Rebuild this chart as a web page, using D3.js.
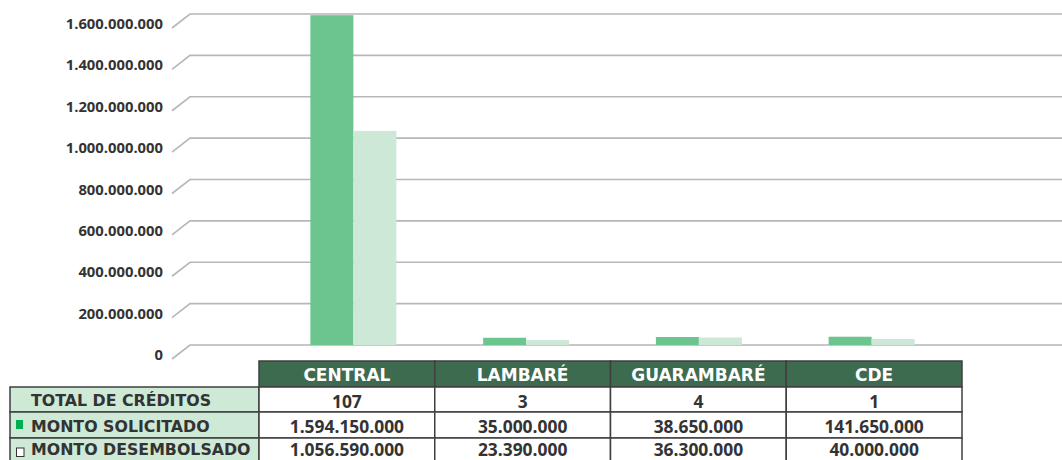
<!DOCTYPE html>
<html>
<head>
<meta charset="utf-8">
<script src="https://cdn.jsdelivr.net/npm/d3@7"></script>
<style>
  body { margin: 0; background: #fff; }
  svg { display: block; }
</style>
</head>
<body>
<div id="chart"></div>
<script>
// data
var categories = ["CENTRAL", "LAMBARÉ", "GUARAMBARÉ", "CDE"];
var barSolicitado = [1594150000, 35000000, 38650000, 40000000];
var barDesembolsado = [1035000000, 23390000, 36300000, 29000000];
var yTicks = [0, 200000000, 400000000, 600000000, 800000000, 1000000000, 1200000000, 1400000000, 1600000000];

// table under the chart
var rowLabels = ["TOTAL DE CRÉDITOS", "MONTO SOLICITADO", "MONTO DESEMBOLSADO"];
var totalCreditos = ["107", "3", "4", "1"];
var montoSolicitado = ["1.594.150.000", "35.000.000", "38.650.000", "141.650.000"];
var montoDesembolsado = ["1.056.590.000", "23.390.000", "36.300.000", "40.000.000"];

var W = 1062, H = 460;
var colSol = "#6cc48f", colDes = "#cde8d6";
var textCol = "#333";
var numFont = "'Open Sans', sans-serif";
var capFont = "'DejaVu Sans', sans-serif";

var svg = d3.select("#chart").append("svg")
    .attr("width", W)
    .attr("height", H);

var y = d3.scaleLinear().domain([0, 1600000000]).range([345, 14]);
var x = d3.scaleBand().domain(categories).range([267, 958]);
var fmt = function (v) { return d3.format(",")(v).replace(/,/g, "."); };

// gridlines with the little 3D floor offset
var dx = 18, dy = 14;
var grid = svg.append("g");
grid.selectAll("path")
    .data(yTicks)
    .enter()
    .append("path")
    .attr("d", function (d) {
        var yy = y(d);
        return "M" + (190 - dx) + "," + (yy + dy) + "L190," + yy + "L" + W + "," + yy;
    })
    .attr("fill", "none")
    .attr("stroke", "#b7b7b7")
    .attr("stroke-width", 1.6);

grid.selectAll("text")
    .data(yTicks)
    .enter()
    .append("text")
    .text(function (d) { return fmt(d); })
    .attr("x", 163)
    .attr("y", function (d) { return y(d) + 9; })
    .attr("text-anchor", "end")
    .attr("dominant-baseline", "central")
    .attr("font-family", numFont)
    .attr("font-weight", 700)
    .attr("font-size", "14.8px")
    .attr("fill", textCol);

// bars
var bw = 43;
var center = function (c) { return x(c) + x.bandwidth() / 2; };
svg.append("g").selectAll("rect")
    .data(categories)
    .enter()
    .append("rect")
    .attr("x", function (d) { return center(d) - bw; })
    .attr("y", function (d, i) { return y(barSolicitado[i]); })
    .attr("width", bw)
    .attr("height", function (d, i) { return y(0) - y(barSolicitado[i]); })
    .attr("fill", colSol);

svg.append("g").selectAll("rect")
    .data(categories)
    .enter()
    .append("rect")
    .attr("x", function (d) { return center(d); })
    .attr("y", function (d, i) { return y(barDesembolsado[i]); })
    .attr("width", bw)
    .attr("height", function (d, i) { return y(0) - y(barDesembolsado[i]); })
    .attr("fill", colDes);

// table
var tx = d3.scaleBand().domain(categories).range([259, 962]);
var rowTop = [361, 387, 412, 438], rowH = [26, 25, 26, 26];
var textDy = [1, 1, 1, -1];
var labelX0 = 10, labelX1 = 259;
var border = "#3f3f3f";
var tbl = svg.append("g");

// header
tbl.selectAll("rect.head")
    .data(categories)
    .enter()
    .append("rect")
    .attr("class", "head")
    .attr("x", function (d) { return tx(d); })
    .attr("y", rowTop[0])
    .attr("width", tx.bandwidth())
    .attr("height", rowH[0])
    .attr("fill", "#3d6b50")
    .attr("stroke", border)
    .attr("stroke-width", 1.5);

tbl.selectAll("text.head")
    .data(categories)
    .enter()
    .append("text")
    .attr("class", "head")
    .text(function (d) { return d; })
    .attr("x", function (d) { return tx(d) + tx.bandwidth() / 2; })
    .attr("y", rowTop[0] + rowH[0] / 2 + 1)
    .attr("text-anchor", "middle")
    .attr("dominant-baseline", "central")
    .attr("font-family", capFont)
    .attr("font-weight", 700)
    .attr("font-size", "17px")
    .attr("fill", "#fff");

var rows = [totalCreditos, montoSolicitado, montoDesembolsado];
rows.forEach(function (vals, r) {
    var top = rowTop[r + 1], h = rowH[r + 1];
    var ty = Math.min(top + h / 2 + textDy[r + 1], 449);
    tbl.append("rect")
        .attr("x", labelX0)
        .attr("y", top)
        .attr("width", labelX1 - labelX0)
        .attr("height", h)
        .attr("fill", "#cfe9d7")
        .attr("stroke", border)
        .attr("stroke-width", 1.5);
    tbl.append("text")
        .text(rowLabels[r])
        .attr("x", 31)
        .attr("y", ty)
        .attr("dominant-baseline", "central")
        .attr("font-family", capFont)
        .attr("font-weight", 700)
        .attr("font-size", "15.8px")
        .attr("fill", textCol);

    tbl.selectAll("rect.r" + r)
        .data(categories)
        .enter()
        .append("rect")
        .attr("x", function (d) { return tx(d); })
        .attr("y", top)
        .attr("width", tx.bandwidth())
        .attr("height", h)
        .attr("fill", "#fff")
        .attr("stroke", border)
        .attr("stroke-width", 1.5);

    tbl.selectAll("text.r" + r)
        .data(vals)
        .enter()
        .append("text")
        .text(function (d) { return d; })
        .attr("x", function (d, i) { return tx(categories[i]) + tx.bandwidth() / 2; })
        .attr("y", ty)
        .attr("text-anchor", "middle")
        .attr("dominant-baseline", "central")
        .attr("font-family", numFont)
        .attr("font-weight", 700)
        .attr("font-size", "17.4px")
        .attr("fill", textCol);
});

// legend keys inside the label cells
tbl.append("rect")
    .attr("x", 16).attr("y", 420)
    .attr("width", 7).attr("height", 9)
    .attr("fill", "#00b050");
tbl.append("rect")
    .attr("x", 16.5).attr("y", 448)
    .attr("width", 7.5).attr("height", 8.5)
    .attr("fill", "#fff")
    .attr("stroke", "#333")
    .attr("stroke-width", 1);
</script>
</body>
</html>
